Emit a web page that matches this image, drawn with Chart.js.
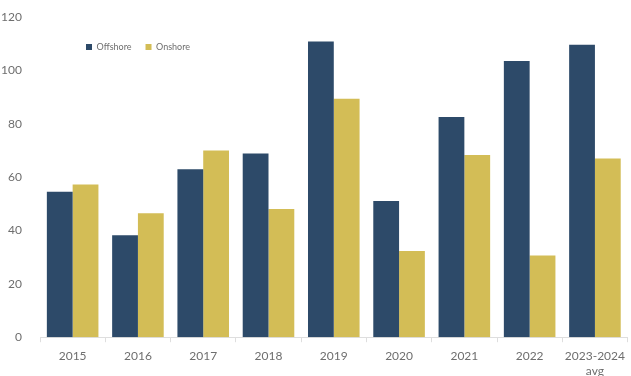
<!DOCTYPE html>
<html>
<head>
<meta charset="utf-8">
<script src="https://cdn.jsdelivr.net/npm/chart.js@4/dist/chart.umd.min.js"></script>
<style>
  html, body { margin: 0; padding: 0; background: #fff; overflow: hidden; }
  #wrap { position: relative; width: 632px; height: 385px; }
</style>
</head>
<body>
<div id="wrap"><canvas id="c"></canvas></div>
<script>
// Wind capacity by year, offshore vs onshore
const years = ['2015', '2016', '2017', '2018', '2019', '2020', '2021', '2022', ['2023-2024', 'avg']];
const offshore = [54.5, 38.2, 63.0, 68.9, 110.9, 51.1, 82.6, 103.6, 109.7];
const onshore = [57.3, 46.5, 70.0, 48.1, 89.4, 32.3, 68.3, 30.6, 67.0];
const yTicks = [0, 20, 40, 60, 80, 100, 120];

const NAVY = '#2d4a69';
const GOLD = '#d3bd56';
const TEXT = '#6e6e6e';
const FONT = 'Lato, "Open Sans", sans-serif';

// the legend takes no room in the layout and floats inside the plot, top-left
const legendPlacer = {
  id: 'legendPlacer',
  beforeLayout(chart) {
    const lg = chart.legend;
    if (lg && !lg._floating) {
      lg._floating = true;
      const origFit = lg.fit.bind(lg);
      lg.fit = function () { origFit(); this._fitH = this.height; this.height = 0; };
    }
  },
  afterLayout(chart) {
    const lg = chart.legend;
    if (!lg) return;
    const w = lg.width, h = lg._fitH || 30;
    lg.left = 72; lg.top = 28.5;
    lg.right = lg.left + w; lg.bottom = lg.top + h;
  }
};

new Chart(document.getElementById('c'), {
  type: 'bar',
  data: {
    labels: years,
    datasets: [
      { label: 'Offshore', data: offshore, backgroundColor: NAVY },
      { label: 'Onshore', data: onshore, backgroundColor: GOLD }
    ]
  },
  plugins: [legendPlacer],
  options: {
    responsive: true,
    maintainAspectRatio: false,
    animation: false,
    devicePixelRatio: 1,
    datasets: { bar: { categoryPercentage: 0.79, barPercentage: 1.0 } },
    layout: { padding: { top: 13, left: 0, right: 0, bottom: 0 } },
    plugins: {
      tooltip: { enabled: false },
      legend: {
        position: 'top',
        align: 'start',
        labels: {
          boxWidth: 6, boxHeight: 6, padding: 14,
          color: TEXT,
          font: { family: FONT, size: 9 }
        }
      }
    },
    scales: {
      x: {
        grid: {
          display: true, drawOnChartArea: false, drawTicks: true,
          tickLength: 5, color: '#dedede'
        },
        border: { display: true, color: '#dedede' },
        ticks: { color: TEXT, font: { family: FONT, size: 12 }, padding: 7, maxRotation: 0, autoSkip: false }
      },
      y: {
        min: 0, max: 120,
        afterBuildTicks(scale) { scale.ticks = yTicks.map(v => ({ value: v })); },
        afterFit(scale) { scale.width = 40; },
        grid: { display: false },
        border: { display: false },
        ticks: { color: TEXT, font: { family: FONT, size: 12 }, padding: 10 }
      }
    }
  }
});
</script>
</body>
</html>
